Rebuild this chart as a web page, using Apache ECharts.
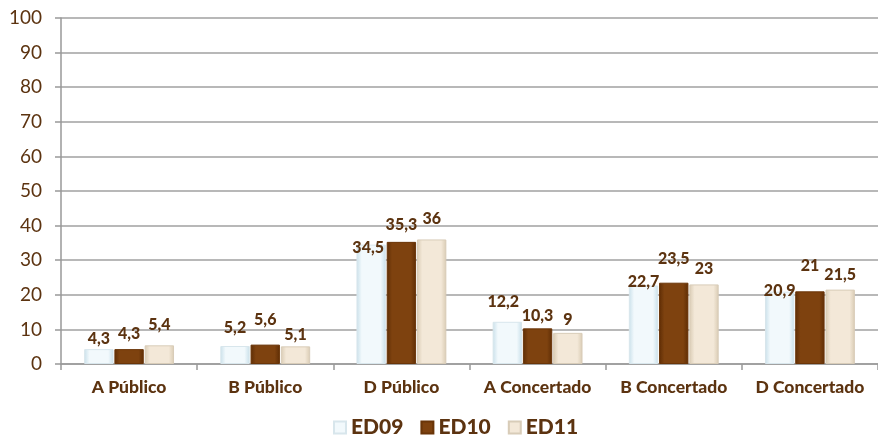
<!DOCTYPE html>
<html><head><meta charset="utf-8">
<script src="https://cdn.jsdelivr.net/npm/echarts@6/dist/echarts.min.js"></script>
<style>html,body{margin:0;padding:0;background:#fff}#c{width:878px;height:439px}</style>
</head><body><div id="c"></div>
<script>
const categories = ['A Público','B Público','D Público','A Concertado','B Concertado','D Concertado'];
const seriesNames = ['ED09','ED10','ED11'];
const ed09 = [4.3, 5.2, 34.5, 12.2, 22.7, 20.9];
const ed10 = [4.3, 5.6, 35.3, 10.3, 23.5, 21];
const ed11 = [5.4, 5.1, 36, 9, 23, 21.5];
const yTicks = [0,10,20,30,40,50,60,70,80,90,100];

// layout only: label gap above each bar (px), as placed in the reference
const labelGap = [
  [2, 10, -11, 12, -4, -7],
  [7, 17, 9, 5, 16, 17],
  [12, 4, 13, 5, 8, 7]
];
const labelShiftX = [
  [0, 0, -3, -4, 0, 0],
  [0, 0, 0, 0, 0, 0],
  [0, 0, 0, 0, 0, 0]
];

const brown = '#5c3310';
function grad(edge, mid){
  return new echarts.graphic.LinearGradient(0,0,1,0,[
    {offset:0,color:edge},{offset:0.18,color:mid},{offset:0.82,color:mid},{offset:1,color:edge}]);
}
const styles = [
  {color: grad('#c9e0ea','#f2f9fc'), borderColor:'#d8e6ec'},
  {color: grad('#5e2d05','#7e420f'), borderColor:'#6a3508'},
  {color: grad('#d9cbb3','#f3e8d8'), borderColor:'#d8ccb8'}
];
const data = [ed09, ed10, ed11];
const chart = echarts.init(document.getElementById('c'));
chart.setOption({
  animation:false,
  textStyle:{fontFamily:'Lato'},
  grid:{left:61,right:-6,top:18,bottom:75,containLabel:false},
  legend:{
    bottom:-4,left:328,itemWidth:12,itemHeight:12,itemGap:17,
    icon:'rect',
    textStyle:{color:brown,fontSize:21,fontWeight:900,fontFamily:'Lato'},
    data:seriesNames
  },
  xAxis:{
    type:'category',data:categories,
    axisLine:{lineStyle:{color:'#999',width:1.5}},
    axisTick:{show:true,length:6,lineStyle:{color:'#999',width:1.5},alignWithLabel:false},
    axisLabel:{color:brown,fontSize:17.5,fontWeight:900,margin:14,interval:0}
  },
  yAxis:{
    type:'value',min:yTicks[0],max:yTicks[yTicks.length-1],interval:10,
    axisLine:{show:true,lineStyle:{color:'#999',width:1.5}},
    axisTick:{show:true,length:6,lineStyle:{color:'#999',width:1.5}},
    splitLine:{lineStyle:{color:'#a0a0a0',width:1.5}},
    axisLabel:{color:brown,fontSize:19,margin:19}
  },
  series: seriesNames.map((n,i)=>({
    name:n,type:'bar',
    data:data[i].map((v,j)=>({value:v,label:{distance:labelGap[i][j],offset:[labelShiftX[i][j],0]}})),
    barGap:'3%',barCategoryGap:'34%',
    itemStyle:Object.assign({borderWidth:1},styles[i]),
    label:{show:true,position:'top',color:brown,fontSize:16,fontWeight:900,
      formatter:p=>String(p.value).replace('.',',')}
  }))
});
</script></body></html>
